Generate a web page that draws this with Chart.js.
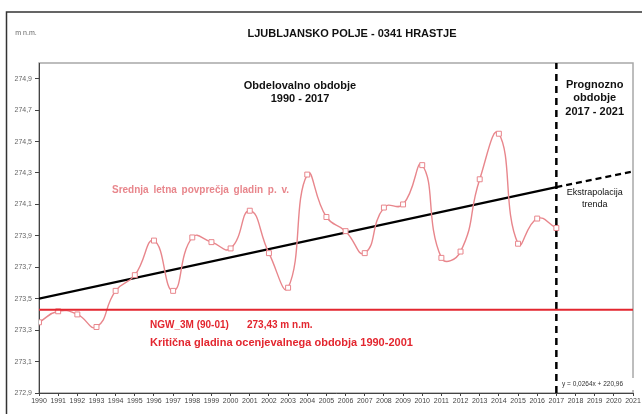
<!DOCTYPE html>
<html>
<head>
<meta charset="utf-8">
<script src="https://cdn.jsdelivr.net/npm/chart.js@4/dist/chart.umd.min.js"></script>
<style>
  html, body { margin: 0; padding: 0; background: #fff; }
  #wrap { width: 642px; height: 414px; position: relative; }
</style>
</head>
<body>
<div id="wrap"><canvas id="gwChart" width="642" height="414"></canvas></div>
<script>
// --- podatki (odčitani s slike) ---
const years = [1990, 1991, 1992, 1993, 1994, 1995, 1996, 1997, 1998, 1999,
               2000, 2001, 2002, 2003, 2004, 2005, 2006, 2007, 2008, 2009,
               2010, 2011, 2012, 2013, 2014, 2015, 2016, 2017];
const levels = [273.35, 273.42, 273.40, 273.32, 273.55, 273.65, 273.87, 273.55, 273.89, 273.86,
                273.82, 274.06, 273.79, 273.57, 274.29, 274.02, 273.93, 273.79, 274.08, 274.10,
                274.35, 273.76, 273.80, 274.26, 274.55, 273.85, 274.01, 273.95];
const trendYears = [1990, 2017, 2021];
const trendValues = [273.50, 274.21, 274.31];
const ngwLevel = 273.43;
const xRange = [1990, 2021];
const yRange = [272.9, 275.0];
const yTicks = [272.9, 273.1, 273.3, 273.5, 273.7, 273.9, 274.1, 274.3, 274.5, 274.7, 274.9];
const splitYear = 2017;

const pink = '#e8868c';
const red = '#e3262f';
const fnt = '"Liberation Sans", Arial, sans-serif';

const xy = (xs, ys) => xs.map((x, i) => ({ x: x, y: ys[i] }));

// napisi in okvir
const decorPlugin = {
    id: 'decor',
    beforeDraw(chart) {
        const c = chart.ctx, a = chart.chartArea;
        c.save();
        c.fillStyle = '#fff';
        c.fillRect(0, 0, chart.width, chart.height);
        c.strokeStyle = '#333';
        c.lineWidth = 1.5;
        c.strokeRect(6.5, 12, 640, 410);
        c.strokeStyle = '#a8a8a8';
        c.lineWidth = 1.5;
        c.strokeRect(a.left, a.top, a.right - a.left, a.bottom - a.top);
        c.restore();
    },
    afterDatasetsDraw(chart) {
        const c = chart.ctx;
        const sx = chart.scales.x;
        const txt = (s, x, y, font, color, align) => {
            c.font = font;
            c.fillStyle = color;
            c.textAlign = align || 'center';
            c.textBaseline = 'middle';
            c.fillText(s, x, y);
        };
        c.save();
        txt('m n.m.', 26, 33, '7px ' + fnt, '#666');
        txt('LJUBLJANSKO POLJE - 0341 HRASTJE', 352, 34, 'bold 11px ' + fnt, '#111');
        txt('Obdelovalno obdobje', 300, 86, 'bold 11px ' + fnt, '#111');
        txt('1990 - 2017', 300, 99, 'bold 11px ' + fnt, '#111');
        const px = sx.getPixelForValue(2019);
        txt('Prognozno', px, 85, 'bold 11px ' + fnt, '#111');
        txt('obdobje', px, 98, 'bold 11px ' + fnt, '#111');
        txt('2017 - 2021', px, 112, 'bold 11px ' + fnt, '#111');
        txt('Ekstrapolacija', px, 193, '9px ' + fnt, '#111');
        txt('trenda', px, 205, '9px ' + fnt, '#111');
        c.wordSpacing = '2px';
        txt('Srednja letna povprečja gladin p. v.', 112, 190, 'bold 10px ' + fnt, pink, 'left');
        c.wordSpacing = '0px';
        txt('NGW_3M (90-01)', 150, 325, 'bold 10px ' + fnt, red, 'left');
        txt('273,43 m n.m.', 247, 325, 'bold 10px ' + fnt, red, 'left');
        txt('Kritična gladina ocenjevalnega obdobja 1990-2001', 150, 343, 'bold 11px ' + fnt, red, 'left');
        c.fillStyle = '#fff';
        c.fillRect(559, 378, 76, 12);
        txt('y = 0,0264x + 220,96', 562, 384, '6.5px ' + fnt, '#333', 'left');
        c.restore();
    }
};

const ctx = document.getElementById('gwChart').getContext('2d');
new Chart(ctx, {
    type: 'line',
    data: {
        datasets: [
            {
                label: 'NGW_3M',
                data: xy(xRange, [ngwLevel, ngwLevel]),
                borderColor: red,
                borderWidth: 2,
                pointRadius: 0
            },
            {
                label: 'Srednja letna povprečja gladin p. v.',
                data: xy(years, levels),
                borderColor: pink,
                borderWidth: 1.4,
                tension: 0.5,
                pointStyle: 'rect',
                pointRadius: 3.5,
                pointBackgroundColor: '#fff',
                pointBorderColor: pink,
                pointBorderWidth: 1
            },
            {
                label: 'Trend',
                data: xy(trendYears.slice(0, 2), trendValues.slice(0, 2)),
                borderColor: '#000',
                borderWidth: 2.2,
                pointRadius: 0
            },
            {
                label: 'Ekstrapolacija',
                data: xy(trendYears.slice(1), trendValues.slice(1)),
                borderColor: '#000',
                borderWidth: 2.2,
                borderDash: [6, 4],
                pointRadius: 0
            },
            {
                label: 'Meja',
                data: xy([splitYear, splitYear], yRange),
                borderColor: '#000',
                borderWidth: 2.5,
                borderDash: [7, 5],
                pointRadius: 0
            }
        ]
    },
    options: {
        responsive: false,
        animation: false,
        layout: { padding: { top: 63, right: 9, left: 0, bottom: 0 } },
        plugins: { legend: { display: false }, tooltip: { enabled: false } },
        scales: {
            x: {
                type: 'linear',
                min: xRange[0],
                max: xRange[1],
                afterFit: s => { s.height = 21; },
                ticks: {
                    stepSize: 1,
                    autoSkip: false,
                    maxRotation: 0,
                    padding: 1,
                    color: '#444',
                    font: { size: 7, family: fnt },
                    callback: v => String(v)
                },
                grid: { drawOnChartArea: false, tickLength: 3, color: '#444' },
                border: { color: '#444', width: 1 }
            },
            y: {
                min: yRange[0],
                max: yRange[1],
                afterFit: s => { s.width = 39; },
                afterBuildTicks: s => { s.ticks = yTicks.map(v => ({ value: v })); },
                ticks: {
                    padding: 3,
                    color: '#666',
                    font: { size: 7, family: fnt },
                    callback: v => v.toFixed(1).replace('.', ',')
                },
                grid: { drawOnChartArea: false, tickLength: 4, color: '#444' },
                border: { color: '#444', width: 1 }
            }
        }
    },
    plugins: [decorPlugin]
});
</script>
</body>
</html>
